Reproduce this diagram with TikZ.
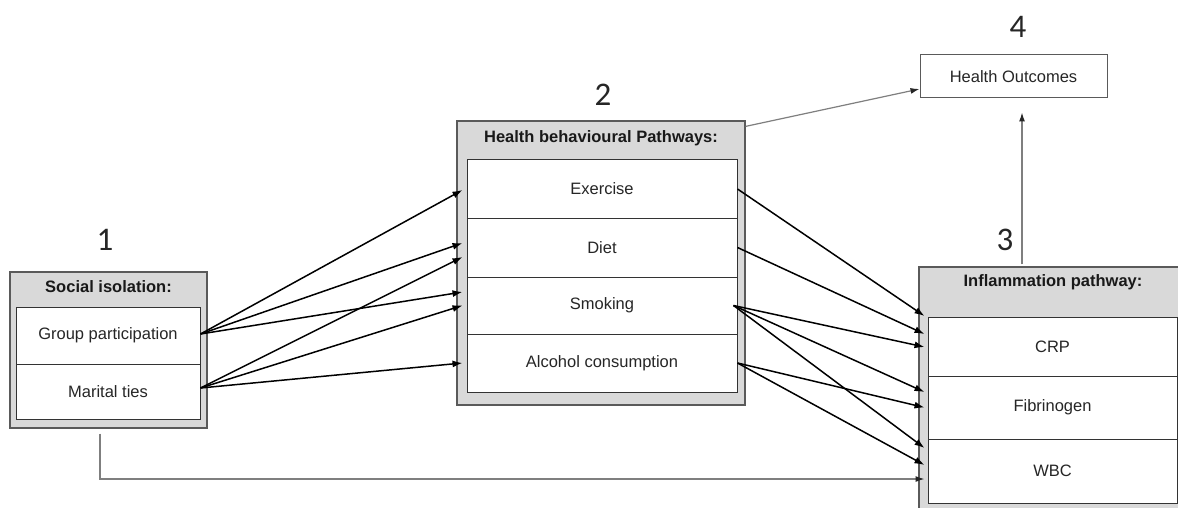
\documentclass[tikz,border=0pt]{standalone}
\usepackage{fontspec}
\setmainfont{Liberation Sans}
\newfontfamily\numfont{Carlito}
\usetikzlibrary{arrows.meta}
\definecolor{boxgray}{HTML}{D9D9D9}
\definecolor{edgegray}{HTML}{5A5A5A}
\definecolor{txt}{HTML}{262626}
\definecolor{linegray}{HTML}{7F7F7F}
\begin{document}
\begin{tikzpicture}[x=1pt,y=-1pt,
  font=\fontsize{16.5}{19}\selectfont,
  outerbox/.style={rectangle, draw=edgegray, fill=boxgray, line width=1.2pt, inner sep=0pt},
  rowbox/.style={rectangle, draw=black!80, fill=white, line width=1pt, inner sep=0pt, text=txt},
  titletext/.style={font=\fontsize{16.5}{19}\selectfont\bfseries, text=black!90},
  numlabel/.style={font=\numfont\fontsize{33}{36}\selectfont, text=black!85},
  flow/.style={draw=black, line width=1.5pt, -{Latex[length=10pt,width=7pt]}},
  thinflow/.style={draw=linegray, line width=1.2pt, -{Latex[length=9pt,width=6pt,color=black!85]}}
]
\useasboundingbox (0,0) rectangle (1178,508);
\clip (0,0) rectangle (1178,508);
\fill[white] (0,0) rectangle (1178,508);

% numbers
\node[numlabel] (n1) at (105,240) {1};
\node[numlabel] (n2) at (603,95) {2};
\node[numlabel] (n3) at (1005,240) {3};
\node[numlabel] (n4) at (1018,27) {4};

% box 1
\node[outerbox, minimum width=197pt, minimum height=156pt] (b1) at (108.5,350) {};
\node[titletext] (t1) at (108.5,287) {Social isolation:};
\node[rowbox, minimum width=184pt, minimum height=57pt] (gp) at (108,335.5) {Group participation};
\node[rowbox, minimum width=184pt, minimum height=55pt] (mt) at (108,391.5) {Marital ties};

% box 2
\node[outerbox, minimum width=288pt, minimum height=284pt] (b2) at (601,263) {};
\node[titletext] (t2) at (601,138) {Health behavioural Pathways:};
\node[rowbox, minimum width=270pt, minimum height=58pt] (ex) at (602,189) {Exercise};
\node[rowbox, minimum width=270pt, minimum height=59pt] (diet) at (602,247.5) {Diet};
\node[rowbox, minimum width=270pt, minimum height=57pt] (smk) at (602,305.5) {Smoking};
\node[rowbox, minimum width=270pt, minimum height=58pt] (alc) at (602,363) {Alcohol consumption};

% box 3
\node[outerbox, minimum width=268pt, minimum height=245pt] (b3) at (1053,389.5) {};
\node[titletext] (t3) at (1053,282) {Inflammation pathway:};
\node[rowbox, minimum width=249pt, minimum height=59pt] (crp) at (1052.5,346.5) {CRP};
\node[rowbox, minimum width=249pt, minimum height=63pt] (fib) at (1052.5,407.5) {Fibrinogen};
\node[rowbox, minimum width=249pt, minimum height=64pt] (wbc) at (1052.5,471) {WBC};

% box 4
\node[rowbox, draw=edgegray, minimum width=187pt, minimum height=43pt] (ho) at (1013.5,76.5) {Health Outcomes};

% box 1 -> box 2
\draw[flow] ([yshift=1.5pt]gp.east) -- ([xshift=-4pt,yshift=-1pt]ex.west);
\draw[flow] ([yshift=1.5pt]gp.east) -- ([xshift=-4pt,yshift=4.5pt]diet.west);
\draw[flow] ([yshift=1.5pt]gp.east) -- ([xshift=-4pt,yshift=13.5pt]smk.west);
\draw[flow] ([yshift=3.5pt]mt.east) -- ([xshift=-4pt,yshift=-9.5pt]diet.west);
\draw[flow] ([yshift=3.5pt]mt.east) -- ([xshift=-4pt]smk.west);
\draw[flow] ([yshift=3.5pt]mt.east) -- ([xshift=-4pt]alc.west);

% box 2 -> box 3
\draw[flow] (ex.east) -- ([xshift=-3pt,yshift=30.5pt]crp.west);
\draw[flow] (diet.east) -- ([xshift=-3pt,yshift=12.5pt]crp.west);
\draw[flow] ([xshift=-4pt]smk.east) -- ([xshift=-3pt,yshift=-0.5pt]crp.west);
\draw[flow] ([xshift=-4pt]smk.east) -- ([xshift=-3pt,yshift=15.5pt]fib.west);
\draw[flow] ([xshift=-4pt]smk.east) -- ([xshift=-3pt,yshift=23pt]wbc.west);
\draw[flow] (alc.east) -- ([xshift=-3pt]fib.west);
\draw[flow] (alc.east) -- ([xshift=-3pt,yshift=6pt]wbc.west);

% thin gray connectors
\draw[thinflow] ([yshift=-6pt]b2.north east) -- ([yshift=-12.5pt]ho.west);
\coordinate (vx) at (1022,0);
\draw[thinflow] ([yshift=2pt]b3.north -| vx) -- ([yshift=-14pt]ho.south -| vx);
\draw[thinflow] ([xshift=-8.5pt,yshift=-5pt]b1.south) |- ([xshift=-3pt,yshift=-8pt]wbc.west);
\end{tikzpicture}
\end{document}
